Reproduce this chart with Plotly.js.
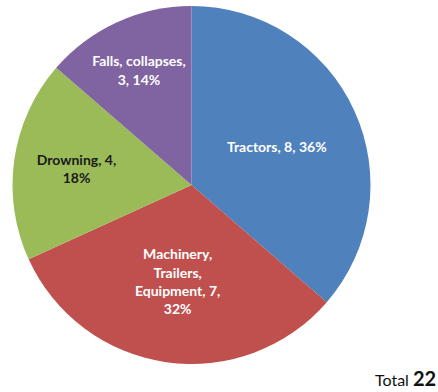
<!DOCTYPE html>
<html>
<head>
<meta charset="utf-8">
<script src="https://cdn.plot.ly/plotly-3.0.1.min.js"></script>
<style>html,body{margin:0;padding:0;background:#fff;}#chart{width:438px;height:392px;}</style>
</head>
<body>
<div id="chart"></div>
<script>
const categories = ["Tractors", "Machinery, Trailers, Equipment", "Drowning", "Falls, collapses"];
const displayLabels = ["Tractors", "Machinery,<br>Trailers,<br>Equipment", "Drowning", "Falls, collapses"];
const values = [8, 7, 4, 3];
const colors = ["#4F81BD", "#C0504D", "#9BBB59", "#8064A2"];
const textColors = ["#ffffff", "#ffffff", "#1a1a1a", "#ffffff"];

const total = values.reduce((a, b) => a + b, 0);
const texts = categories.map((c, i) => {
  const pct = Math.round(values[i] / total * 100) + "%";
  if (i === 0) return displayLabels[i] + ", " + values[i] + ", " + pct;
  if (i === 3) return displayLabels[i] + ",<br>" + values[i] + ", " + pct;
  return displayLabels[i] + ", " + values[i] + ",<br>" + pct;
});

const trace = {
  type: "pie",
  labels: categories,
  values: values,
  text: texts,
  textinfo: "text",
  textposition: "inside",
  insidetextorientation: "horizontal",
  sort: false,
  direction: "clockwise",
  rotation: 0,
  marker: { colors: colors, line: { width: 0 } },
  insidetextfont: { family: "Lato, 'Open Sans', sans-serif", size: 14, color: textColors, weight: "bold" },
  domain: { x: [12 / 438, 371 / 438], y: [1 - 364 / 392, 1 - 6 / 392] },
  hoverinfo: "label+value+percent"
};

const layout = {
  width: 438,
  height: 392,
  margin: { l: 0, r: 0, t: 0, b: 0 },
  paper_bgcolor: "#ffffff",
  showlegend: false,
  annotations: [{
    xref: "paper", yref: "paper",
    x: 1, y: 0.0, xanchor: "right", yanchor: "bottom",
    text: "Total <b style='font-size:20px'>" + total + "</b>",
    showarrow: false,
    font: { family: "Lato, 'Open Sans', sans-serif", size: 16, color: "#111111" }
  }]
};

Plotly.newPlot("chart", [trace], layout, { displayModeBar: false, staticPlot: true });
</script>
</body>
</html>
